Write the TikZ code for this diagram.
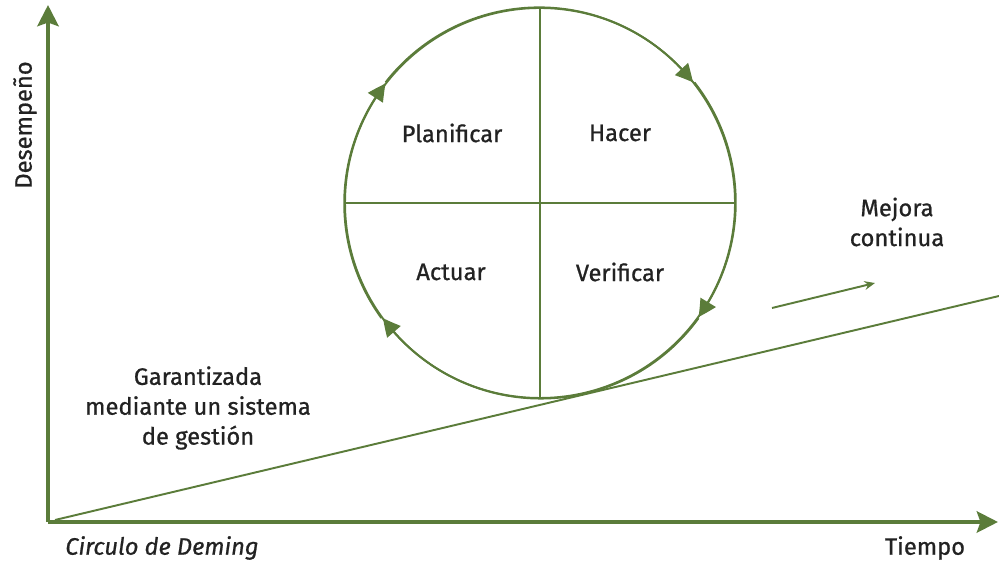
\documentclass[tikz,border=0pt]{standalone}
\usepackage{fontspec}
\setmainfont{Fira Sans}[FakeBold=0.8,BoldFont={Fira Sans}]
\usetikzlibrary{arrows.meta,bending}
\definecolor{pdcagreen}{HTML}{5B7C3A}
\definecolor{pdcatext}{HTML}{222222}

\begin{document}
\begin{tikzpicture}[
		axis/.style={pdcagreen,line width=2.8pt,-{Stealth[length=12pt,width=12pt,inset=2pt]}},
		cycarc/.style={pdcagreen,line width=1.1pt,-{Triangle[length=10pt,width=10pt,bend]}},
		thin line/.style={pdcagreen,line width=1.1pt},
		lbl/.style={text=pdcatext,font=\fontsize{13.5}{17}\selectfont\bfseries,align=center}]
		\def\cx{9.84}
		\def\cy{6.38}
		\def\rc{3.9}
		\useasboundingbox (-0.96,-0.80) rectangle (19.02,10.44);
		% axes
		\coordinate (O) at (0,0);
		\coordinate (ytop) at (0,10.34);
		\coordinate (xend) at (19.0,0);
		\draw[axis] (O) -- (ytop);
		\draw[axis] (O) -- (xend);
		% the circle
		\node[draw=pdcagreen,line width=1.1pt,circle,minimum size=2*\rc cm,inner sep=0pt] (cyc) at (\cx,\cy) {};
		\draw[thin line] (cyc.north) -- (cyc.south);
		\draw[thin line] (cyc.west) -- (cyc.east);
		\draw[cycarc] (cyc.216) arc[start angle=216,end angle=142,radius=\rc];
		\draw[cycarc] (cyc.142) arc[start angle=142,end angle=38,radius=\rc];
		\draw[cycarc] (cyc.38) arc[start angle=38,end angle=-36,radius=\rc];
		\draw[cycarc] (cyc.-36) arc[start angle=-36,end angle=-144,radius=\rc];
		\node[lbl] (plan) at (8.08,7.78) {Planificar};
		\node[lbl] (hacer) at (11.44,7.78) {Hacer};
		\node[lbl] (actuar) at (8.06,5.0) {Actuar};
		\node[lbl] (verif) at (11.44,5.0) {Verificar};
		% improvement line
		\coordinate (lineS) at (0.14,0.04);
		\coordinate (lineE) at (19.02,4.52);
		\draw[thin line] (lineS) -- (lineE);
		\coordinate (mejS) at (14.48,4.28);
		\coordinate (mejE) at (16.54,4.78);
		\draw[thin line,-{Stealth[length=6pt,width=5pt]}] (mejS) -- (mejE);
		\node[lbl] (mejora) at (16.98,6.0) {Mejora\\continua};
		\node[lbl] (garant) at (3.0,2.28) {Garantizada\\mediante un sistema\\de gestión};
		% axis labels
		\node[lbl,font=\fontsize{13.5}{17}\selectfont\itshape] (deming) at (2.28,-0.52) {Circulo de Deming};
		\node[lbl] (tiempo) at (17.54,-0.52) {Tiempo};
		\node[lbl,rotate=90] (desemp) at (-0.46,7.94) {Desempeño};
\end{tikzpicture}
\end{document}
